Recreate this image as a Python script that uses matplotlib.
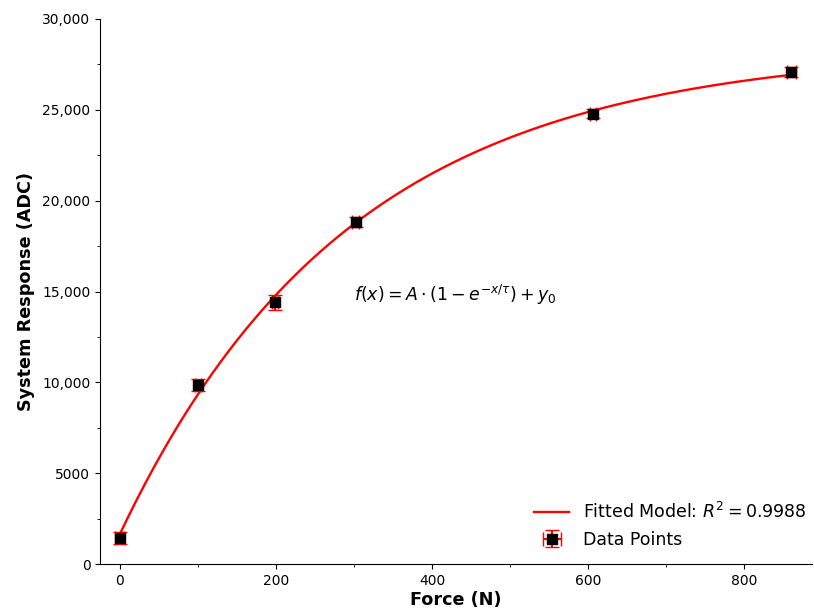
# plot.py
# force vs system response with exponential saturation fit

import numpy as np
import matplotlib
matplotlib.use("Agg")
import matplotlib.pyplot as plt
from matplotlib.ticker import FuncFormatter, MultipleLocator

# measured data
force = np.array([0, 100, 199, 302, 606, 860])
response = np.array([1430, 9870, 14400, 18820, 24780, 27080])
force_err = np.array([6, 4, 4, 4, 4, 6])
response_err = np.array([330, 330, 430, 280, 250, 250])


# fit f(x) = A*(1-exp(-x/tau)) + y0 : grid over tau, linear least squares for A, y0
def fit_model(x, y):
    best = None
    for tau in np.linspace(50, 1000, 9501):
        basis = np.column_stack([1 - np.exp(-x / tau), np.ones_like(x, dtype=float)])
        coef, res, _, _ = np.linalg.lstsq(basis, y, rcond=None)
        sse = np.sum((basis @ coef - y) ** 2)
        if best is None or sse < best[0]:
            best = (sse, coef[0], tau, coef[1])
    return best[1], best[2], best[3]


A, tau, y0 = fit_model(force.astype(float), response.astype(float))
x_fit = np.linspace(0, 860, 400)
y_fit = A * (1 - np.exp(-x_fit / tau)) + y0

fig, ax = plt.subplots(figsize=(8.14, 6.10), dpi=100)
fig.subplots_adjust(left=0.123, right=0.998, top=0.969, bottom=0.075)

ax.plot(x_fit, y_fit, color="red", lw=1.7, label=r"Fitted Model: $R^2 = 0.9988$")
ax.errorbar(force, response, xerr=force_err, yerr=response_err, fmt="s",
            color="black", ms=7, ecolor="red", elinewidth=1.5, capsize=5,
            label="Data Points", zorder=3)

ax.text(300, 14800, r"$f(x) = A \cdot (1 - e^{-x/\tau}) + y_0$",
        fontsize=12.5, va="center")

ax.set_xlim(-25, 887)
ax.set_ylim(0, 30000)
ax.xaxis.set_major_locator(MultipleLocator(200))
ax.xaxis.set_minor_locator(MultipleLocator(100))
ax.yaxis.set_major_locator(MultipleLocator(5000))
ax.yaxis.set_minor_locator(MultipleLocator(2500))
ax.yaxis.set_major_formatter(FuncFormatter(lambda v, p: f"{v:,.0f}" if v >= 10000 else f"{v:.0f}"))
ax.tick_params(labelsize=10)

ax.spines["top"].set_visible(False)
ax.spines["right"].set_visible(False)

ax.set_xlabel("Force (N)", fontsize=12.7, fontweight="bold", labelpad=2)
ax.set_ylabel("System Response (ADC)", fontsize=12.7, fontweight="bold", labelpad=5)
ax.legend(loc="lower right", bbox_to_anchor=(1.014, 0.0), frameon=False, fontsize=12.5)

plt.savefig("out.png")
